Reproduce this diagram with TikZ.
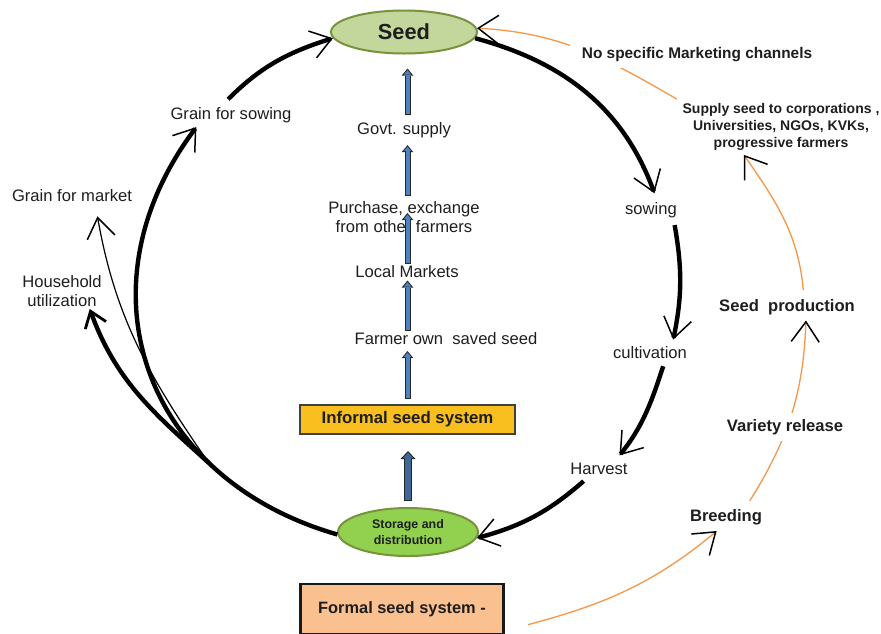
\documentclass[tikz,border=0pt]{standalone}
\usepackage{fontspec}
\setmainfont{Liberation Sans}
\usetikzlibrary{arrows.meta,shapes.geometric,backgrounds,calc}
\definecolor{seedcol}{HTML}{C3D69B}
\definecolor{rimcol}{HTML}{77933C}
\definecolor{storecol}{HTML}{92D050}
\definecolor{infcol}{HTML}{F9BF1E}
\definecolor{formcol}{HTML}{FAC090}
\definecolor{bluecol}{HTML}{4F81BD}
\definecolor{orcol}{HTML}{F79646}
\definecolor{txtcol}{HTML}{1E1E1E}
\tikzset{
	lbl/.style={inner sep=1pt,text=txtcol,align=center,font=\fontsize{8.3}{9.5}\selectfont},
	blbl/.style={lbl,font=\fontsize{8.3}{9.5}\selectfont\bfseries},
	seedell/.style={ellipse,draw=rimcol,line width=1pt,fill=seedcol,minimum width=73pt,minimum height=21.5pt,inner sep=0pt,text=txtcol,font=\fontsize{10.9}{12}\selectfont\bfseries},
	storeell/.style={ellipse,draw=rimcol,line width=1pt,fill=storecol,minimum width=70pt,minimum height=24pt,inner sep=0pt,align=center,text=txtcol,font=\fontsize{6.2}{8}\selectfont\bfseries},
	infbox/.style={draw=black!75,line width=1pt,fill=infcol,minimum width=107.5pt,minimum height=14.5pt,inner sep=0pt,text=txtcol,font=\fontsize{8.4}{10}\selectfont\bfseries},
	formbox/.style={draw=black!90,line width=1.3pt,fill=formcol,minimum width=101.5pt,minimum height=25pt,inner sep=0pt,text=txtcol,font=\fontsize{8.2}{10}\selectfont\bfseries},
	barb/.style={-{Straight Barb[length=10pt,width=14pt,line width=0.75pt,color=black]}},
	cyc/.style={barb,line width=2.2pt},
	ora/.style={barb,draw=orcol,line width=0.65pt},
	hhline/.style={line width=2.2pt,-{Straight Barb[length=7.5pt,width=11pt,line width=1.4pt,color=black]}},
	mktline/.style={barb,line width=0.6pt},
	blk/.style={draw=black!85,line width=3pt,-{Triangle[length=3.5pt,width=5.8pt,line width=0pt]},
		postaction={draw=bluecol,line width=2pt,shorten <=0.5pt,shorten >=0.8pt,-{Triangle[length=2.2pt,width=3.7pt,line width=0pt]}}},
	bigblk/.style={draw=black!85,line width=3.8pt,-{Triangle[length=4pt,width=7.5pt,line width=0pt]},
		postaction={draw=bluecol!80!black,line width=2.8pt,shorten <=0.5pt,shorten >=0.8pt,-{Triangle[length=2.7pt,width=5pt,line width=0pt]}}}
}
\begin{document}
\begin{tikzpicture}[x=0.5pt,y=-0.5pt]
	\useasboundingbox (0,0) rectangle (881,633);
	\clip (0,0) rectangle (881,633);
	\node[seedell] (seed) at (404,32) {Seed};
	\node[storeell] (storage) at (408,532) {Storage and\\distribution};
	\node[infbox] (informal) at (407.5,419.5) {Informal seed system};
	\node[formbox] (formal) at (402,609) {Formal seed system -};
	\node[lbl] (govt) at (404,130) {Govt. supply};
	\node[lbl] (purchase) at (404,217) {Purchase, exchange\\from other farmers};
	\node[lbl] (local) at (407,272) {Local Markets};
	\node[lbl] (farmer) at (446,339) {Farmer own\ \ saved seed};
	\node[lbl] (grainsow) at (231,115) {Grain for sowing};
	\node[lbl] (grainmkt) at (72,196) {Grain for market};
	\node[lbl] (household) at (62,291) {Household\\utilization};
	\node[lbl] (sowing) at (651,210) {sowing};
	\node[lbl] (cultiv) at (650,353) {cultivation};
	\node[lbl] (harvest) at (599,469) {Harvest};
	\node[blbl,fill=white,inner xsep=6pt,inner ysep=3pt,font=\fontsize{7.7}{9}\selectfont\bfseries] (nomkt) at (697,55) {No specific Marketing channels};
	\node[blbl,font=\fontsize{7}{8.5}\selectfont\bfseries] (supply) at (781,127) {Supply seed to corporations ,\\Universities, NGOs, KVKs,\\progressive farmers};
	\node[blbl] (seedprod) at (787,307) {Seed\ \ production};
	\node[blbl,fill=white,inner ysep=3pt] (variety) at (785,427) {Variety release};
	\node[blbl] (breeding) at (726,517) {Breeding};

	\draw[cyc,shorten >=3.5pt] (seed.-5) to[out=-15,in=110] (sowing.60);
	\draw[cyc,shorten <=2.5pt,shorten >=2.5pt] (sowing.-24) to[out=-80,in=78] (cultiv.21);
	\draw[cyc,shorten <=2.5pt,shorten >=3.5pt] (cultiv.-30) to[out=-108,in=51] (harvest.27);
	\draw[cyc,shorten <=3pt] (harvest.-143) to[out=-139,in=15] (storage.-5);
	\draw[cyc,shorten >=1.2pt] (storage.182) to[out=164,in=233,looseness=1.2] coordinate[pos=0.27] (fork) (grainsow.197);
	\draw[cyc,shorten <=4pt] (grainsow.130) to[out=45,in=197] (seed.185);
	\draw[hhline] (fork) to[out=138,in=-70] (household.-33);
	\draw[mktline,shorten >=6pt] (fork) to[out=125,in=-80] (grainmkt.-20);

	\draw[blk] ($(informal.north |- govt.north)+(0,-5)$) -- ($(informal.north |- seed.south)+(0,14)$);
	\draw[blk] ($(informal.north |- purchase.north)+(0,-3.5)$) -- ($(informal.north |- govt.south)+(0,5)$);
	\draw[blk] (informal.north |- local.north) -- ($(informal.north |- purchase)+(0,-4)$);
	\draw[blk] (informal.north |- farmer.north) -- (informal.north |- local.south);
	\draw[blk] ($(informal.north)+(0,-5)$) -- ($(informal.north |- farmer.south)+(0,3.5)$);
	\draw[bigblk] ($(storage.north)+(0,-6)$) -- ($(storage.north |- informal.south)+(0,16)$);

	\begin{scope}[on background layer]
		\draw[ora,shorten <=12pt,shorten >=3pt] (formal.-12) to[out=15,in=220] (breeding.-115);
		\draw[ora,shorten <=3.5pt,shorten >=1.7pt] (breeding.27) to[out=58,in=-92] (seedprod.-28);
		\draw[ora,shorten <=3.5pt,shorten >=1.2pt] (seedprod.31) to[out=95,in=-55] (supply.214);
		\draw[ora,shorten <=2pt] (supply.north west) to[out=150,in=-3] (seed.3);
	\end{scope}
\end{tikzpicture}
\end{document}
